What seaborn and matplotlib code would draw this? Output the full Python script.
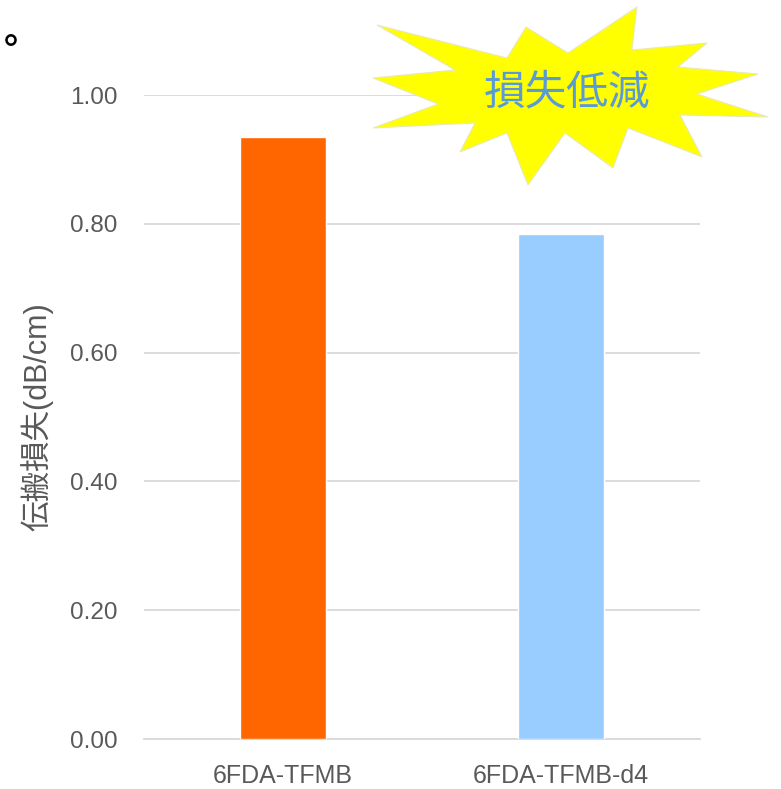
import matplotlib
matplotlib.use("Agg")
import matplotlib.pyplot as plt
from matplotlib.patches import Polygon
import seaborn as sns
import pandas as pd

# data
samples = ["6FDA-TFMB", "6FDA-TFMB-d4"]
loss = [0.935, 0.784]
bar_colors = ["#FF6600", "#99CCFF"]
yticks = [0.0, 0.2, 0.4, 0.6, 0.8, 1.0]
ylabel = "伝搬損失(dB/cm)"
callout = "損失低減"

df = pd.DataFrame({"sample": samples, "loss": loss})

sns.set_style("white")
plt.rcParams["font.family"] = ["Liberation Sans", "Noto Sans CJK JP", "DejaVu Sans"]

W, H = 781, 789
fig = plt.figure(figsize=(W / 100, H / 100), dpi=100)
ax = fig.add_axes([144 / W, 1 - 739 / H, 556 / W, 644 / H])

sns.barplot(data=df, x="sample", y="loss", hue="sample", palette=bar_colors,
            width=0.31, saturation=1, legend=False, ax=ax, zorder=3)

ax.set_ylim(0, 1.0)
ax.set_yticks(yticks)
ax.set_yticklabels([f"{v:.2f}" for v in yticks])
ax.yaxis.grid(True, color="#D9D9D9", linewidth=1.3, zorder=0)
ax.set_axisbelow(True)
for s in ["top", "right", "left"]:
    ax.spines[s].set_visible(False)
ax.spines["bottom"].set_color("#D9D9D9")
ax.spines["bottom"].set_linewidth(1.3)
ax.tick_params(axis="both", length=0, colors="#595959")
ax.tick_params(axis="y", labelsize=17.5, pad=19)
ax.tick_params(axis="x", labelsize=18, pad=18)
ax.set_xlabel("")
ax.set_ylabel(ylabel, fontsize=22, color="#595959", labelpad=12)

# starburst callout (figure pixel coords)
star = [(377, 25), (507, 58), (526, 27), (568, 53), (637, 7), (632, 50),
        (707, 43), (678, 67), (758, 74), (697, 94), (768, 117), (680, 115),
        (702, 157), (628, 128), (613, 168), (565, 133), (528, 185), (507, 133),
        (460, 152), (475, 123), (373, 128), (438, 104), (373, 78), (455, 70)]
star = [(x / W, 1 - y / H) for x, y in star]
fig.patches.append(Polygon(star, closed=True, transform=fig.transFigure,
                           facecolor="#FFFF00", edgecolor="#E8E8C0",
                           linewidth=0.8, zorder=5))
fig.text(567 / W, 1 - 93 / H, callout, fontsize=30, color="#5B9BD5",
         ha="center", va="center", zorder=6,
         family=["Noto Sans CJK JP", "DejaVu Sans"])

# cut-off sentence end at top left
fig.text(4 / W, 1 - 33 / H, "。", fontsize=26, color="black",
         ha="left", va="center", family=["Noto Sans CJK JP", "DejaVu Sans"],
         fontweight="bold")

fig.savefig("out.png", dpi=100)
